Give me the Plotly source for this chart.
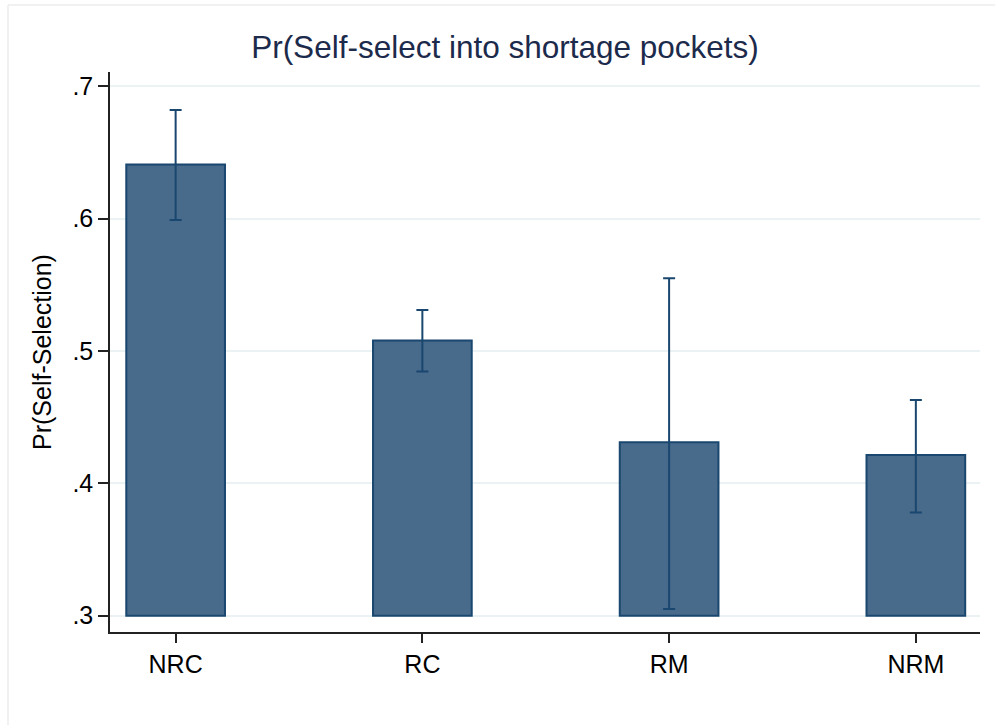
import plotly.graph_objects as go

categories = ["NRC", "RC", "RM", "NRM"]
means = [0.641, 0.508, 0.431, 0.4215]
ci_upper = [0.682, 0.531, 0.555, 0.463]
ci_lower = [0.599, 0.4845, 0.305, 0.378]
base_value = 0.3
y_tick_vals = [0.3, 0.4, 0.5, 0.6, 0.7]
y_tick_text = [".3", ".4", ".5", ".6", ".7"]

bar_fill = "#486a8b"
navy = "#1a476f"
grid_col = "#eaf2f3"
font_family = "Liberation Sans, Arial, Helvetica, sans-serif"

x_idx = list(range(len(categories)))

fig = go.Figure()
fig.add_trace(go.Bar(
    x=x_idx,
    y=[m - base_value for m in means],
    base=base_value,
    width=0.4,
    marker=dict(color=bar_fill, line=dict(color=navy, width=2)),
    showlegend=False,
    hoverinfo="skip",
))
fig.add_trace(go.Scatter(
    x=x_idx,
    y=means,
    mode="markers",
    marker=dict(size=0.1, color=navy, opacity=0),
    error_y=dict(
        type="data",
        symmetric=False,
        array=[u - m for u, m in zip(ci_upper, means)],
        arrayminus=[m - l for m, l in zip(means, ci_lower)],
        color=navy,
        thickness=2,
        width=6,
    ),
    showlegend=False,
    hoverinfo="skip",
))

W, H = 995, 725
L, R, T, B = 110, 15, 72, 93
pw, ph = W - L - R, H - T - B

def px_to_paper_x(px):
    return (px - L) / pw

def px_to_paper_y(py):
    return (H - B - py) / ph

frame_x = px_to_paper_x(8)
frame_y = px_to_paper_y(5)

fig.update_layout(
    width=W, height=H,
    margin=dict(l=L, r=R, t=T, b=B),
    paper_bgcolor="white",
    plot_bgcolor="white",
    font=dict(family=font_family, color="black"),
    title=dict(
        text="Pr(Self-select into shortage pockets)",
        x=505 / W, xref="container", xanchor="center",
        y=1 - 47 / H, yref="container", yanchor="middle",
        font=dict(size=31.5, color="#1c2a4b", family=font_family),
    ),
    xaxis=dict(
        range=[-0.266, 3.26],
        tickmode="array",
        tickvals=x_idx,
        ticktext=categories,
        showgrid=False,
        zeroline=False,
        showline=True,
        linecolor="#222222",
        linewidth=1.5,
        ticks="outside",
        ticklen=9,
        tickwidth=1.5,
        tickcolor="#222222",
        tickfont=dict(size=25, color="black"),
        fixedrange=True,
    ),
    yaxis=dict(
        range=[0.2877, 0.7108],
        tickmode="array",
        tickvals=y_tick_vals,
        ticktext=y_tick_text,
        showgrid=True,
        gridcolor=grid_col,
        gridwidth=2,
        zeroline=False,
        showline=True,
        linecolor="#222222",
        linewidth=1.5,
        ticks="outside",
        ticklen=10,
        tickwidth=1.5,
        tickcolor="#222222",
        tickfont=dict(size=25, color="black"),
        title=dict(text="Pr(Self-Selection)", font=dict(size=25, color="black"), standoff=14),
        fixedrange=True,
    ),
    shapes=[
        dict(type="line", xref="paper", yref="paper",
             x0=frame_x, x1=frame_x, y0=-0.3, y1=frame_y,
             line=dict(color="#ececec", width=1.5)),
        dict(type="line", xref="paper", yref="paper",
             x0=frame_x, x1=1.1, y0=frame_y, y1=frame_y,
             line=dict(color="#ececec", width=1.5)),
    ],
)

fig.write_html("out.html", config={"displayModeBar": False},
               post_script="document.body.style.margin='0';")
